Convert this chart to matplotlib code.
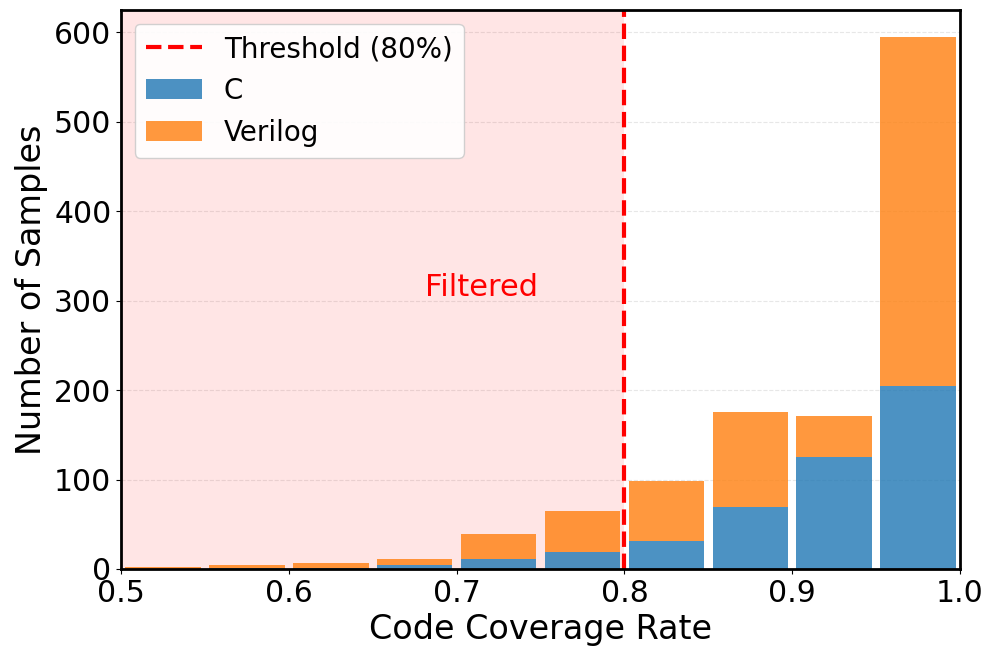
import numpy as np
import matplotlib.pyplot as plt

bin_left = [0.50, 0.55, 0.60, 0.65, 0.70, 0.75, 0.80, 0.85, 0.90, 0.95]
c_counts = [0, 1, 1, 4, 11, 19, 31, 69, 125, 205]
verilog_counts = [2, 3, 6, 7, 28, 46, 67, 107, 46, 390]

bin_w = 0.05
centers = np.array(bin_left) + bin_w / 2

fig = plt.figure(figsize=(9.97, 6.6), dpi=100)
ax = fig.add_axes([0.1214, 0.1379, 0.8415, 0.8469])

ax.axvspan(0.5, 0.8, color='red', alpha=0.1, lw=0)
ax.bar(centers, c_counts, width=0.045, color='#1f77b4', alpha=0.8, label='C')
ax.bar(centers, verilog_counts, width=0.045, bottom=c_counts, color='#ff7f0e', alpha=0.8, label='Verilog')
ax.axvline(0.8, color='red', ls='--', lw=3, label='Threshold (80%)')
ax.text(0.715, 315, 'Filtered', color='red', fontsize=22, ha='center', va='center')

ax.set_xlim(0.5, 1.0)
ax.set_ylim(0, 625)
ax.set_xlabel('Code Coverage Rate', fontsize=24)
ax.set_ylabel('Number of Samples', fontsize=24)
ax.tick_params(labelsize=21.5)
ax.grid(axis='y', ls='--', alpha=0.3)
ax.set_axisbelow(True)
for s in ax.spines.values():
    s.set_linewidth(2)

ax.legend(fontsize=20, loc='upper left', framealpha=0.9)

fig.savefig('out.png')
